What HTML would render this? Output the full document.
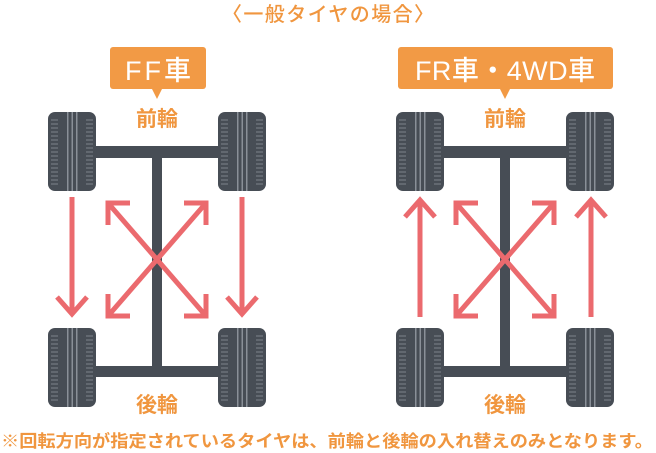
<!DOCTYPE html>
<html><head><meta charset="utf-8"><style>
html,body{margin:0;padding:0;background:#fff;}
svg{display:block;}
text{font-family:"Liberation Sans","Noto Sans CJK JP",sans-serif;}
</style></head><body>
<svg width="656" height="453" viewBox="0 0 656 453" xmlns="http://www.w3.org/2000/svg">
<defs>
<g id="tire">
  <rect x="0" y="0" width="48" height="79" rx="7" fill="#474d55"/>
  <rect x="19" y="0" width="1.5" height="79" fill="#8a9098"/>
  <rect x="23.5" y="0" width="1.5" height="79" fill="#8a9098"/>
  <rect x="28" y="0" width="1.5" height="79" fill="#8a9098"/>
  <g stroke="#7d838b" stroke-width="1">
    <path d="M3 8h7M3 12h7M3 16h7M3 20h7M3 24h7M3 28h7M3 32h7M3 36h7M3 40h7M3 44h7M3 48h7M3 52h7M3 56h7M3 60h7M3 64h7M3 68h7M3 72h7"/>
    <path d="M38 8h7M38 12h7M38 16h7M38 20h7M38 24h7M38 28h7M38 32h7M38 36h7M38 40h7M38 44h7M38 48h7M38 52h7M38 56h7M38 60h7M38 64h7M38 68h7M38 72h7"/>
  </g>
</g>
<g id="chassis">
  <rect x="48" y="146" width="170" height="12" fill="#474d55"/>
  <rect x="48" y="366" width="170" height="11" fill="#474d55"/>
  <rect x="152" y="146" width="10" height="225" fill="#474d55"/>
  <use href="#tire" x="48" y="112"/>
  <use href="#tire" x="218" y="112"/>
  <use href="#tire" x="48" y="328"/>
  <use href="#tire" x="218" y="328"/>
</g>
<g id="cross" stroke="#eb6a6e" stroke-width="5" fill="none" stroke-linecap="butt">
  <path d="M108 203 L206 316"/>
  <path d="M206 203 L108 316"/>
  <path d="M108 225 L108 203 L130 203"/>
  <path d="M184 203 L206 203 L206 225"/>
  <path d="M108 294 L108 316 L130 316"/>
  <path d="M184 316 L206 316 L206 294"/>
</g>
</defs>

<text x="328" y="21" font-size="20" fill="#f0963f" text-anchor="middle" textLength="212" font-weight="500">〈一般タイヤの場合〉</text>

<rect x="110" y="47" width="96" height="42" rx="3" fill="#f29a45"/>
<path d="M152 89 L157 99 L162 89Z" fill="#f29a45"/>
<text x="158" y="80" font-size="27" fill="#fff" text-anchor="middle" textLength="66" font-weight="500">FF車</text>
<text x="157" y="126" font-size="21" fill="#f0963f" text-anchor="middle" font-weight="bold">前輪</text>
<use href="#chassis"/>
<use href="#cross"/>
<g stroke="#eb6a6e" stroke-width="5" fill="none">
  <path d="M72 197 L72 314 M57 297 L72 314 L87 297"/>
  <path d="M242 197 L242 314 M227 297 L242 314 L257 297"/>
</g>
<text x="157" y="412" font-size="21" fill="#f0963f" text-anchor="middle" font-weight="bold">後輪</text>

<rect x="398" y="47" width="215" height="42" rx="3" fill="#f29a45"/>
<path d="M500 89 L505 99 L510 89Z" fill="#f29a45"/>
<text x="505" y="80" font-size="27" fill="#fff" text-anchor="middle" textLength="180" font-weight="500">FR車・4WD車</text>
<text x="505" y="126" font-size="21" fill="#f0963f" text-anchor="middle" font-weight="bold">前輪</text>
<g transform="translate(348,0)">
  <use href="#chassis"/>
  <use href="#cross"/>
</g>
<g stroke="#eb6a6e" stroke-width="5" fill="none">
  <path d="M420 317 L420 200 M405 217 L420 200 L435 217"/>
  <path d="M591 317 L591 200 M576 217 L591 200 L606 217"/>
</g>
<text x="505" y="412" font-size="21" fill="#f0963f" text-anchor="middle" font-weight="bold">後輪</text>

<text x="1" y="447" font-size="17" fill="#f0963f" textLength="652" lengthAdjust="spacingAndGlyphs" font-weight="bold">※回転方向が指定されているタイヤは、前輪と後輪の入れ替えのみとなります。</text>
</svg>
</body></html>
